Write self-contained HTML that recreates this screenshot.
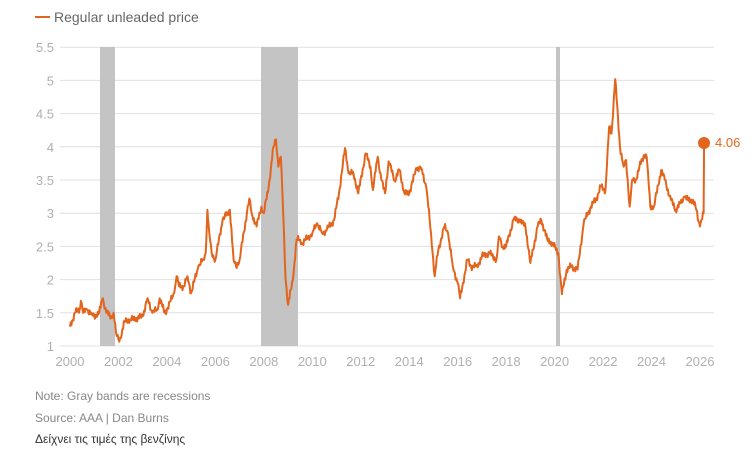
<!DOCTYPE html>
<html><head><meta charset="utf-8"><style>
body{margin:0;background:#fff;width:754px;height:467px;overflow:hidden;font-family:"Liberation Sans",sans-serif}
</style></head><body>
<svg width="754" height="467" xmlns="http://www.w3.org/2000/svg" font-family="Liberation Sans, DejaVu Sans, sans-serif">
<line x1="35" y1="17" x2="50" y2="17" stroke="#e3651d" stroke-width="2"/>
<text x="54" y="22" font-size="14" fill="#666">Regular unleaded price</text>
<g id="grid" stroke="#e0e0e0" stroke-width="1"></g>
<rect x="100" y="47" width="15" height="299" fill="#c4c4c4"/>
<rect x="261" y="47" width="37" height="299" fill="#c4c4c4"/>
<rect x="556" y="47" width="4" height="299" fill="#c4c4c4"/>
<g id="ylab" font-size="13" fill="#b0b0b0" text-anchor="end"></g>
<g id="xlab" font-size="13" fill="#b0b0b0" text-anchor="middle"></g>
<polyline id="ser" fill="none" stroke="#e3651d" stroke-width="2" stroke-linejoin="round"/>
<circle cx="704" cy="143" r="6" fill="#e3651d"/>
<text x="715" y="147" font-size="13" fill="#e3651d">4.06</text>
<text x="35" y="400" font-size="12" fill="#888">Note: Gray bands are recessions</text>
<text x="35" y="422" font-size="12" fill="#888">Source: AAA | Dan Burns</text>
<text x="35" y="443" font-size="12" fill="#333">Δείχνει τις τιμές της βενζίνης</text>
</svg>
<script>
var X=t=>70+(t-2000)*24.23, Y=v=>346-(v-1)*66.4, ns="http://www.w3.org/2000/svg";
var g=document.getElementById('grid'),yl=document.getElementById('ylab'),xl=document.getElementById('xlab');
for(var v=1;v<=5.51;v+=0.5){var l=document.createElementNS(ns,'line');l.setAttribute('x1',60);l.setAttribute('x2',714);l.setAttribute('y1',Y(v));l.setAttribute('y2',Y(v));g.appendChild(l);
var t=document.createElementNS(ns,'text');t.setAttribute('x',54);t.setAttribute('y',Y(v)+5);t.textContent=(Math.round(v*10)/10).toString();yl.appendChild(t);}
for(var y=2000;y<=2026;y+=2){var t=document.createElementNS(ns,'text');t.setAttribute('x',X(y));t.setAttribute('y',366);t.textContent=y;xl.appendChild(t);}
var d=[2000.0,1.29,2000.2,1.5,2000.4,1.55,2000.45,1.68,2000.55,1.5,2000.7,1.55,2000.9,1.48,2001.0,1.45,2001.2,1.5,2001.35,1.72,2001.5,1.5,2001.7,1.45,2001.8,1.5,2001.9,1.2,2002.0,1.1,2002.1,1.12,2002.25,1.38,2002.5,1.4,2002.8,1.42,2003.0,1.45,2003.2,1.72,2003.4,1.5,2003.6,1.55,2003.7,1.72,2003.9,1.5,2004.0,1.55,2004.3,1.8,2004.4,2.05,2004.5,1.9,2004.7,1.9,2004.85,2.05,2005.0,1.8,2005.3,2.2,2005.5,2.3,2005.6,2.4,2005.67,3.05,2005.75,2.7,2005.85,2.4,2006.0,2.3,2006.3,2.9,2006.5,3.0,2006.6,3.05,2006.75,2.3,2006.85,2.2,2007.0,2.3,2007.3,3.0,2007.4,3.22,2007.5,3.0,2007.7,2.8,2007.9,3.1,2008.0,3.0,2008.2,3.4,2008.4,4.0,2008.5,4.11,2008.6,3.7,2008.7,3.85,2008.8,3.0,2008.9,2.0,2009.0,1.62,2009.2,2.0,2009.35,2.6,2009.5,2.6,2009.6,2.55,2010.0,2.7,2010.2,2.85,2010.4,2.7,2010.6,2.75,2010.9,2.9,2011.1,3.3,2011.35,3.98,2011.5,3.6,2011.7,3.6,2011.9,3.3,2012.2,3.9,2012.4,3.7,2012.5,3.35,2012.7,3.85,2012.85,3.5,2013.0,3.3,2013.15,3.78,2013.4,3.5,2013.6,3.65,2013.8,3.3,2014.0,3.3,2014.3,3.68,2014.5,3.68,2014.7,3.4,2014.9,2.7,2015.05,2.05,2015.2,2.45,2015.45,2.8,2015.6,2.7,2015.8,2.2,2016.0,1.95,2016.1,1.72,2016.4,2.3,2016.55,2.2,2016.8,2.2,2017.0,2.35,2017.3,2.4,2017.6,2.3,2017.7,2.65,2017.85,2.5,2018.0,2.5,2018.3,2.9,2018.55,2.9,2018.8,2.8,2019.0,2.25,2019.3,2.8,2019.45,2.9,2019.7,2.6,2019.9,2.55,2020.15,2.4,2020.3,1.78,2020.5,2.15,2020.7,2.2,2020.95,2.15,2021.2,2.85,2021.5,3.1,2021.7,3.2,2021.9,3.4,2022.1,3.35,2022.25,4.3,2022.35,4.2,2022.5,5.02,2022.7,4.0,2022.85,3.7,2022.95,3.8,2023.1,3.1,2023.2,3.5,2023.35,3.5,2023.5,3.7,2023.7,3.88,2023.8,3.85,2023.95,3.1,2024.1,3.1,2024.4,3.65,2024.55,3.5,2024.8,3.2,2025.0,3.05,2025.2,3.15,2025.35,3.25,2025.5,3.2,2025.7,3.2,2025.85,3.05,2026.0,2.8,2026.15,3.0,2026.17,4.06];
var p=[],k=0;
for(var i=0;i<d.length-2;i+=2){var t0=d[i],v0=d[i+1],t1=d[i+2],v1=d[i+3];
 var n=Math.max(1,Math.round((t1-t0)/0.03));
 for(var j=0;j<n;j++){var t=t0+(t1-t0)*j/n,v=v0+(v1-v0)*j/n;
  if(j>0){v+=0.035*Math.sin(k*2.3)+0.025*Math.sin(k*5.7+1);} k++;
  p.push(X(t).toFixed(1)+','+Y(v).toFixed(1));}}
p.push(X(2026.17).toFixed(1)+','+Y(4.06).toFixed(1));
document.getElementById('ser').setAttribute('points',p.join(' '));
</script>
</body></html>
